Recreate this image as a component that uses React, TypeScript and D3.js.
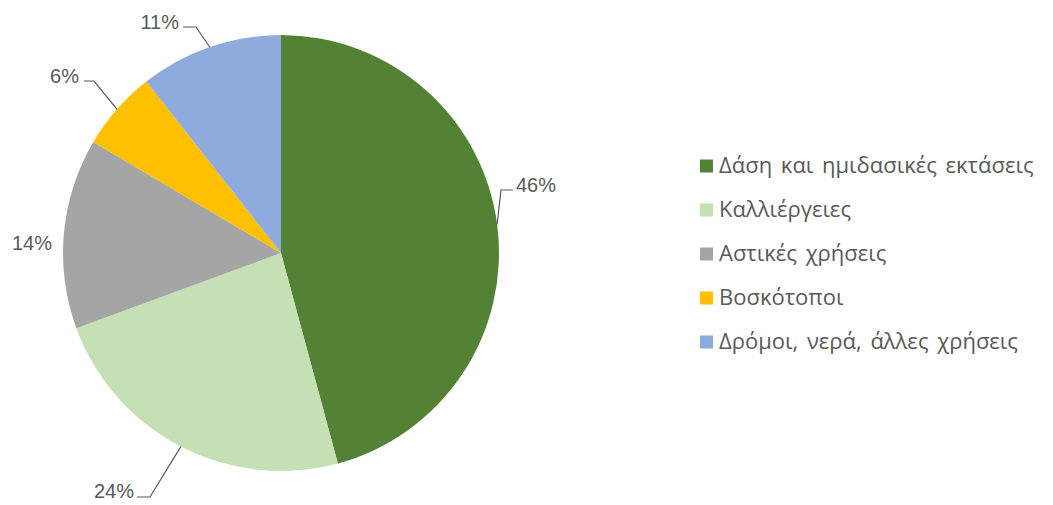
import React from "react";
import * as d3 from "d3";

const categories = [
  "Δάση και ημιδασικές εκτάσεις",
  "Καλλιέργειες",
  "Αστικές χρήσεις",
  "Βοσκότοποι",
  "Δρόμοι, νερά, άλλες χρήσεις",
];
const values = [45.8, 23.6, 14.1, 5.9, 10.6];
const colors = ["#548235", "#C5E0B4", "#A5A5A5", "#FFC000", "#8FAADC"];

// label layout: text anchor point, anchor type, leader polyline elbow points
const labelLayout = [
  { x: 516, y: 192, anchor: "start", leader: [[513, 190], [501, 190]] },
  { x: 134, y: 498, anchor: "end", leader: [[137, 497], [150, 497]] },
  { x: 52, y: 250, anchor: "end", leader: null },
  { x: 79, y: 83, anchor: "end", leader: [[84, 81], [94, 81]] },
  { x: 179, y: 29, anchor: "end", leader: [[183, 27], [196, 27]] },
];

export default function App() {
  const W = 1053, H = 505;
  const cx = 281, cy = 253, r = 218;
  const pie = d3.pie<number>().sort(null).value((d) => d);
  const arcs = pie(values);
  const arc = d3.arc<d3.PieArcDatum<number>>().innerRadius(0).outerRadius(r);
  const total = d3.sum(values);

  return (
    <svg
      width={W}
      height={H}
      style={{ position: "absolute", left: 0, top: 0, background: "#fff" }}
      fontFamily="'Liberation Sans', Arial, sans-serif"
    >
      <g transform={`translate(${cx},${cy})`}>
        {arcs.map((a, i) => (
          <path key={i} d={arc(a) || ""} fill={colors[i]} />
        ))}
      </g>
      {arcs.map((a, i) => {
        const L = labelLayout[i];
        const mid = (a.startAngle + a.endAngle) / 2;
        const ex = cx + r * Math.sin(mid);
        const ey = cy - r * Math.cos(mid);
        const pct = Math.round((values[i] / total) * 100) + "%";
        return (
          <g key={i}>
            {L.leader && (
              <polyline
                points={[...L.leader, [ex, ey]].map((p) => p.join(",")).join(" ")}
                fill="none"
                stroke="#595959"
                strokeWidth={1.2}
              />
            )}
            <text x={L.x} y={L.y} textAnchor={L.anchor as any} fontSize={20} fill="#595959">
              {pct}
            </text>
          </g>
        );
      })}
      <g fontFamily="'Open Sans', 'Liberation Sans', sans-serif">
        {categories.map((c, i) => {
          const y = 166 + i * 44;
          return (
            <g key={i}>
              <rect x={700} y={y - 6.5} width={13} height={13} fill={colors[i]} />
              <text x={719} y={y + 7} fontSize={22} wordSpacing={3} fill="#595959">
                {c}
              </text>
            </g>
          );
        })}
      </g>
    </svg>
  );
}
